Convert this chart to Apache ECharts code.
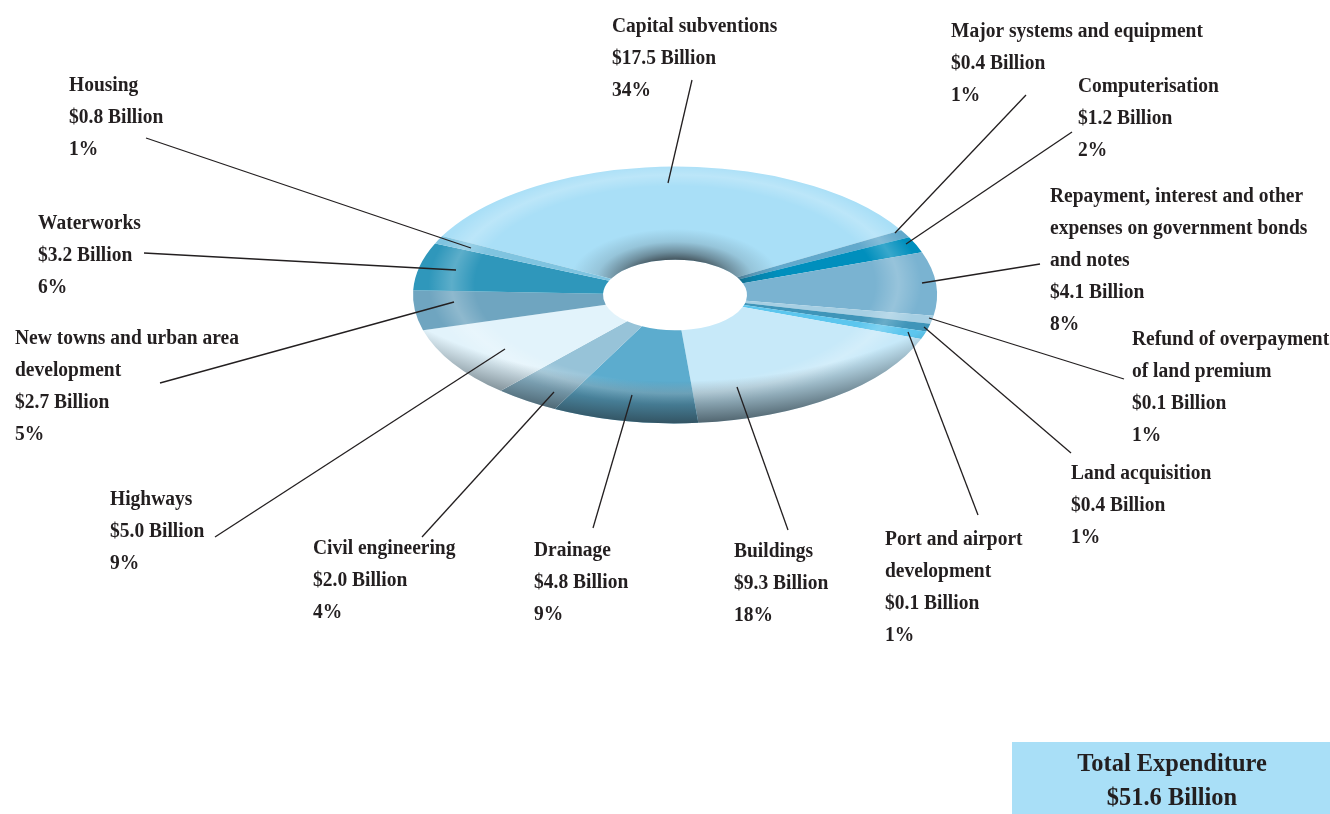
<!DOCTYPE html>
<html>
<head>
<meta charset="utf-8">
<style>html,body{margin:0;padding:0;background:#fff}#c{width:1330px;height:814px}</style>
<script src="https://cdn.jsdelivr.net/npm/echarts@6/dist/echarts.min.js"></script>
</head>
<body>
<div id="c"></div>
<script>
// ---- data, clockwise from the upper left of the ring ----
const categories = ['Capital subventions','Major systems and equipment','Computerisation',
  'Repayment, interest and other\nexpenses on government bonds\nand notes',
  'Refund of overpayment\nof land premium','Land acquisition','Port and airport\ndevelopment',
  'Buildings','Drainage','Civil engineering','Highways',
  'New towns and urban area\ndevelopment','Waterworks','Housing'];
const amounts = [17.5,0.4,1.2,4.1,0.1,0.4,0.1,9.3,4.8,2.0,5.0,2.7,3.2,0.8];
const percents = [34,1,2,8,1,1,1,18,9,4,9,5,6,1];
const totalLabel = 'Total Expenditure';
const totalValue = '$51.6 Billion';

// ---- styles and layout, separate from the data ----
const colors = ['#a9dff7','#62a9cc','#008fbd','#7ab3d1','#a6cfe3','#3f95b9','#5cc6ee',
  '#c7e9f9','#5cacce','#97c3d8','#e2f3fb','#6fa5c0','#2f97bb','#80c4e0'];
const CX = 675, CY = 295, R = 262, R0 = 72, SQUASH = 0.49, START_DEG = -152.7;
const FONT = '"Liberation Serif", "Times New Roman", serif';
const labelPos = [[612,25],[951,30],[1078,85],[1050,195],[1132,338],[1071,472],[885,538],
  [734,550],[534,549],[313,547],[110,498],[15,337],[38,222],[69,84]];
const leaders = [[692,80,668,183],[1026,95,895,233],[1072,132,906,244],[1040,264,922,283],
  [1124,379,929,318],[1071,453,924,327],[978,515,908,332],[788,530,737,387],
  [593,528,632,395],[422,537,554,392],[215,537,505,349],[160,383,454,302],
  [144,253,456,270],[146,138,471,248]];

const RG = echarts.graphic.RadialGradient;
const highlight = new RG(0,-22,290,[
  {offset:0,color:'rgba(255,255,255,0)'},{offset:0.69,color:'rgba(255,255,255,0)'},
  {offset:0.77,color:'rgba(255,255,255,0.22)'},{offset:0.85,color:'rgba(255,255,255,0)'},
  {offset:1,color:'rgba(255,255,255,0)'}],true);
const rimShade = new RG(0,-170,432,[
  {offset:0,color:'rgba(35,50,58,0)'},{offset:0.80,color:'rgba(35,50,58,0)'},
  {offset:0.90,color:'rgba(35,50,58,0.36)'},{offset:1,color:'rgba(35,50,58,0.72)'}],true);
const holeShade = new RG(0,-30,105,[
  {offset:0,color:'rgba(50,60,66,0.88)'},{offset:0.40,color:'rgba(50,60,66,0.85)'},
  {offset:0.55,color:'rgba(50,60,66,0.5)'},{offset:0.75,color:'rgba(50,60,66,0.16)'},
  {offset:1,color:'rgba(50,60,66,0)'}],true);

const total = percents.reduce((a,b)=>a+b,0);
const cumulative = [];
percents.reduce((a,b,i)=>(cumulative[i]=a,a+b),0);

function labelText(i){
  return categories[i] + '\n$' + amounts[i].toFixed(1) + ' Billion\n' + percents[i] + '%';
}
function renderSlice(params, api){
  const i = api.value(0);
  const a0 = (START_DEG + cumulative[i]/total*360)*Math.PI/180;
  const a1 = (START_DEG + (cumulative[i]+api.value(2))/total*360)*Math.PI/180;
  const shape = {cx:0,cy:0,r:R,r0:R0,startAngle:a0,endAngle:a1,clockwise:true};
  const layers = [colors[i], highlight, rimShade];
  if (i <= 2) layers.push(holeShade);
  const l = leaders[i], p = labelPos[i];
  return {type:'group',children:[
    {type:'group',x:CX,y:CY,scaleY:SQUASH,
      children:layers.map(f=>({type:'sector',shape:shape,style:{fill:f}}))},
    {type:'line',z2:10,shape:{x1:l[0],y1:l[1],x2:l[2],y2:l[3]},style:{stroke:'#231f20',lineWidth:1.3}},
    {type:'text',z2:11,x:p[0],y:p[1]-14,scaleX:0.975,style:{text:labelText(i),fill:'#231f20',
      font:'bold 20px '+FONT,lineHeight:32,verticalAlign:'top',align:'left'}}
  ]};
}
const chart = echarts.init(document.getElementById('c'),null,{renderer:'canvas',width:1330,height:814});
chart.setOption({
  animation:false,
  backgroundColor:'#fff',
  series:[{type:'custom',coordinateSystem:'none',silent:true,renderItem:renderSlice,
    data:categories.map((c,i)=>[i,amounts[i],percents[i]])}],
  graphic:[
    {type:'rect',shape:{x:1012,y:742,width:318,height:72},style:{fill:'#a9dff7'}},
    {type:'text',x:1172,y:764,scaleX:0.94,style:{text:totalLabel,font:'bold 26px '+FONT,fill:'#231f20',align:'center',verticalAlign:'middle'}},
    {type:'text',x:1172,y:798,scaleX:0.94,style:{text:totalValue,font:'bold 26px '+FONT,fill:'#231f20',align:'center',verticalAlign:'middle'}}
  ]
});
</script>
</body>
</html>
